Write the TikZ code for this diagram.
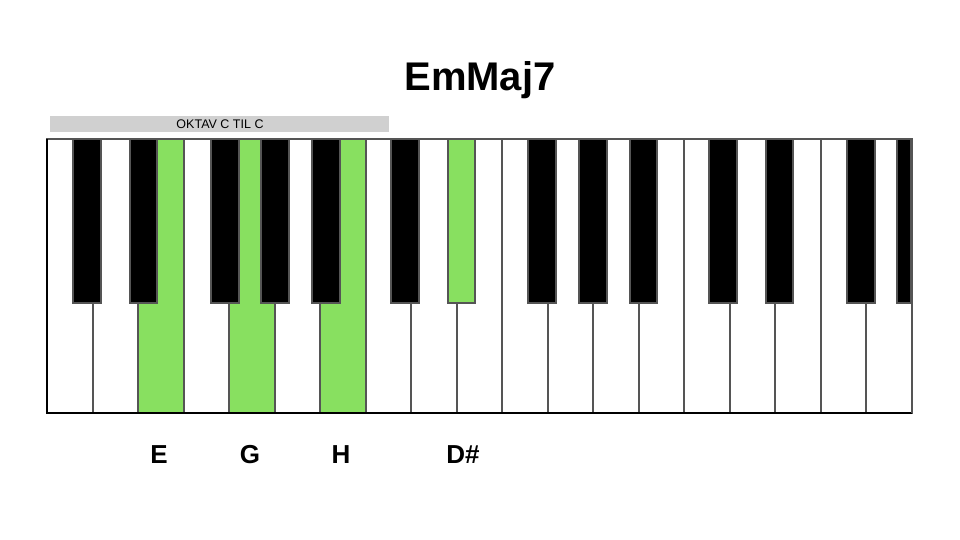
\documentclass[tikz,border=0pt]{standalone}
\usepackage{fontspec}
\setmainfont{Liberation Sans}
\definecolor{keygreen}{HTML}{88E060}
\definecolor{keyedge}{HTML}{555555}
\definecolor{barfill}{HTML}{D0D0D0}
\begin{document}
\begin{tikzpicture}[x=1pt,y=-1pt,
  whitekey/.style={draw=keyedge,line width=2pt,fill=white},
  greenwhite/.style={draw=keyedge,line width=2pt,fill=keygreen},
  blackkey/.style={draw=keyedge,line width=1.5pt,fill=black},
  greenblack/.style={draw=keyedge,line width=1.5pt,fill=keygreen},
  lbl/.style={font=\bfseries\fontsize{26}{30}\selectfont,anchor=center}]
\useasboundingbox (0,0) rectangle (960,540);
\fill[white] (0,0) rectangle (960,540);
\node[font=\bfseries\fontsize{40}{46}\selectfont] (title) at (480,80) {EmMaj7};
\fill[barfill] (50,116) rectangle (389,132);
\node[font=\fontsize{12.5}{14}\selectfont] (bar) at (220,124) {OKTAV C TIL C};
% white keys
\def\w{45.52}
\foreach \i in {0,...,18} {
  \pgfmathsetmacro\xa{47+\i*\w}
  \pgfmathsetmacro\xb{47+(\i+1)*\w}
  \ifnum\i=2 \def\st{greenwhite}\else\ifnum\i=4 \def\st{greenwhite}\else\ifnum\i=6 \def\st{greenwhite}\else\def\st{whitekey}\fi\fi\fi
  \draw[\st] (\xa,139) rectangle (\xb,413);
}
% black keys
\foreach \xa/\xb in {73/101,130/157,211/239,261/289,312/340,391/419,528/556,579/607,630/657,709/737,766/793,847/875,897/911} {
  \draw[blackkey] (\xa,139) rectangle (\xb,303);
}
\draw[greenblack] (448,139) rectangle (475,303);
% outer frame
\draw[keyedge,line width=1.5pt] (47,139) -- (911.5,139);
\draw[black,line width=2pt] (47,139) -- (47,413) -- (911.5,413);
\draw[keyedge,line width=2pt] (911.5,139) -- (911.5,413);
% labels
\node[lbl] (e) at (159,455) {E};
\node[lbl] (g) at (250,455) {G};
\node[lbl] (h) at (341,455) {H};
\node[lbl] (ds) at (463,455) {D\#};
\end{tikzpicture}
\end{document}
